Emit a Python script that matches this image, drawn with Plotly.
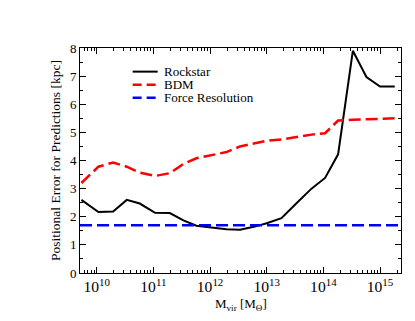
import plotly.graph_objects as go

# log10 of halo virial mass bins
log_mass = [9.73, 10.03, 10.29, 10.53, 10.76, 11.03, 11.29, 11.53, 11.76, 12.0,
            12.29, 12.53, 12.79, 13.0, 13.26, 13.53, 13.79, 14.03, 14.26, 14.52,
            14.76, 15.0, 15.26]
mass = [10 ** v for v in log_mass]

rockstar = [2.6, 2.17, 2.19, 2.6, 2.47, 2.14, 2.13, 1.87, 1.68, 1.62,
            1.56, 1.54, 1.65, 1.77, 1.95, 2.49, 3.0, 3.38, 4.22, 7.9,
            6.97, 6.63, 6.63]
bdm = [3.2, 3.78, 3.93, 3.78, 3.57, 3.45, 3.55, 3.88, 4.08, 4.17,
       4.3, 4.5, 4.62, 4.7, 4.75, 4.84, 4.92, 4.97, 5.42, 5.45,
       5.47, 5.5, 5.5]
force_resolution = 1.7
x_range = [9.705, 15.37]

series_names = ['Rockstar', 'BDM', 'Force Resolution']
series_colors = ['black', 'red', 'blue']
series_dash = ['solid', '12px,5px', '12px,5px']
series_width = [2, 2.5, 2.5]

font = "Liberation Serif"

fig = go.Figure()

fig.add_trace(go.Scatter(
    x=mass, y=rockstar, mode='lines', name=series_names[0],
    line=dict(color=series_colors[0], width=series_width[0], dash=series_dash[0])
))

fig.add_trace(go.Scatter(
    x=mass, y=bdm, mode='lines', name=series_names[1],
    line=dict(color=series_colors[1], width=series_width[1], dash=series_dash[1])
))

fig.add_trace(go.Scatter(
    x=[10 ** x_range[0], 10 ** x_range[1]],
    y=[force_resolution, force_resolution],
    mode='lines', name=series_names[2],
    line=dict(color=series_colors[2], width=series_width[2], dash=series_dash[2])
))

# legend drawn by hand (tight line spacing like the original)
for i, name in enumerate(series_names):
    yy = 0.895 - i * 0.058
    fig.add_shape(type='line', xref='paper', yref='paper',
                  x0=0.164, x1=0.242, y0=yy, y1=yy,
                  line=dict(color=series_colors[i], width=series_width[i],
                            dash='solid' if i == 0 else '9px,5px'))
    fig.add_annotation(xref='paper', yref='paper', x=0.254, y=yy,
                       xanchor='left', yanchor='middle', showarrow=False,
                       height=11, text=name,
                       font=dict(family=font, size=13, color='black'))

# x-axis title placed as an annotation so it sits as close as in the original
fig.add_annotation(xref='paper', yref='paper', x=0.5, y=-0.14,
                   xanchor='center', yanchor='middle', showarrow=False,
                   text='M<sub>vir</sub> [M<sub>Θ</sub>]',
                   font=dict(family=font, size=13, color='black'))

# page body has an 8px margin, so the figure is 8px smaller than the window
fig.update_layout(
    width=407, height=313,
    margin=dict(l=72, r=14, t=40, b=48),
    plot_bgcolor='white', paper_bgcolor='white',
    font=dict(family=font, size=13, color='black'),
    showlegend=False,
    xaxis=dict(
        type='log', range=x_range, dtick=1, exponentformat='power',
        showgrid=False, zeroline=False, automargin=False,
        showline=True, linecolor='black', linewidth=1, mirror='ticks',
        ticks='inside', ticklen=6, tickcolor='black',
        minor=dict(ticks='inside', ticklen=3, tickcolor='black', showgrid=False),
        tickfont=dict(family=font, size=12.5),
    ),
    yaxis=dict(
        range=[0, 8], dtick=1,
        showgrid=False, zeroline=False, automargin=False,
        showline=True, linecolor='black', linewidth=1, mirror='ticks',
        ticks='inside', ticklen=6, tickcolor='black',
        minor=dict(dtick=0.5, ticks='inside', ticklen=3, tickcolor='black', showgrid=False),
        tickfont=dict(family=font, size=13),
        title=dict(text='Positional Error for Predictions [kpc]', font=dict(family=font, size=13.5), standoff=6),
    ),
)

fig.write_html("out.html")
